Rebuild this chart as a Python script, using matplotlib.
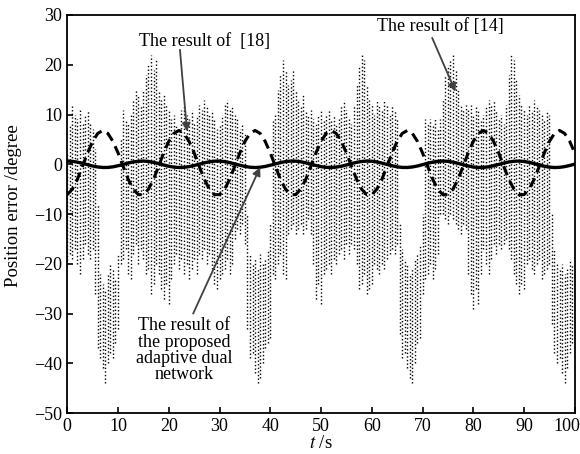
import matplotlib
matplotlib.use("Agg")
import matplotlib.pyplot as plt
import matplotlib.transforms as mtransforms

plt.rcParams['font.family'] = ['Liberation Serif', 'DejaVu Serif']
plt.rcParams['mathtext.fontset'] = 'stix'

# time axis for the two smooth curves (1 s steps)
t_smooth = list(range(0, 101))

# proposed adaptive dual network (solid)
proposed = [0.65, 0.59, 0.43, 0.19, -0.08, -0.34, -0.54, -0.64, -0.63, -0.51,
            -0.29, -0.03, 0.24, 0.47, 0.61, 0.65, 0.57, 0.39, 0.14, -0.14,
            -0.39, -0.57, -0.65, -0.61, -0.47, -0.24, 0.03, 0.29, 0.51, 0.63,
            0.64, 0.54, 0.34, 0.08, -0.19, -0.43, -0.59, -0.65, -0.59, -0.43,
            -0.19, 0.08, 0.34, 0.54, 0.64, 0.63, 0.51, 0.29, 0.03, -0.24,
            -0.47, -0.61, -0.65, -0.57, -0.39, -0.14, 0.14, 0.39, 0.57, 0.65,
            0.61, 0.47, 0.24, -0.03, -0.29, -0.51, -0.63, -0.64, -0.54, -0.34,
            -0.08, 0.19, 0.43, 0.59, 0.65, 0.59, 0.43, 0.19, -0.08, -0.34,
            -0.54, -0.64, -0.63, -0.51, -0.29, -0.03, 0.24, 0.47, 0.61, 0.65,
            0.57, 0.39, 0.14, -0.14, -0.39, -0.57, -0.65, -0.61, -0.47, -0.24,
            0.03]

# result of [18] (dashed)
ref18 = [-6.1, -5.0, -3.0, -0.4, 2.3, 4.6, 6.2, 6.8, 6.2, 4.6,
         2.3, -0.4, -3.0, -5.0, -6.1, -6.1, -5.0, -3.0, -0.4, 2.3,
         4.6, 6.2, 6.8, 6.2, 4.6, 2.3, -0.4, -3.0, -5.0, -6.1,
         -6.1, -5.0, -3.0, -0.4, 2.3, 4.6, 6.2, 6.8, 6.2, 4.6,
         2.3, -0.4, -3.0, -5.0, -6.1, -6.1, -5.0, -3.0, -0.4, 2.3,
         4.6, 6.2, 6.8, 6.2, 4.6, 2.3, -0.4, -3.0, -5.0, -6.1,
         -6.1, -5.0, -3.0, -0.4, 2.3, 4.6, 6.2, 6.8, 6.2, 4.6,
         2.3, -0.4, -3.0, -5.0, -6.1, -6.1, -5.0, -3.0, -0.4, 2.3,
         4.6, 6.2, 6.8, 6.2, 4.6, 2.3, -0.4, -3.0, -5.0, -6.1,
         -6.1, -5.0, -3.0, -0.4, 2.3, 4.6, 6.2, 6.8, 6.2, 4.6,
         2.3]

# result of [14] (dotted): one spike column every 0.5 s, top and bottom value
ref14_hi = [2, 8, 12, 10, 9, 11, 8, 10, 11, 8, 7, 3, -8, -22, -24, -25, -22, -20, -21, -23,
            -18, 5, 11, 9, 8, 10, 13, 15, 14, 12, 15, 18, 20, 22, 19, 21, 15, 13, 14, 12,
            11, 9, 10, 8, 6, 11, 12, 10, 9, 11, 8, 10, 12, 11, 13, 12, 10, 11, 9, 7,
            8, 10, 12, 13, 11, 12, 10, 9, 7, 8, 6, -10, -18, -20, -19, -21, -18, -20, -19, -17,
            -12, 9, 10, 15, 18, 21, 19, 16, 17, 19, 15, 13, 12, 14, 11, 10, 11, 9, 8, 10,
            11, 9, 10, 11, 9, 10, 8, 9, 12, 13, 11, 9, 8, 12, 16, 20, 22, 21, 16, 13,
            12, 10, 13, 12, 11, 13, 12, 10, 12, 11, 9, -12, -17, -19, -20, -22, -21, -19, -18, -16,
            -10, 9, 8, 9, 8, 9, 7, 9, 13, 18, 20, 21, 22, 19, 15, 12, 11, 12, 11, 12,
            10, 12, 11, 9, 10, 12, 13, 12, 13, 11, 9, 10, 8, 12, 18, 22, 21, 17, 14, 12,
            11, 10, 12, 11, 13, 12, 11, 10, 9, 11, 10, -10, -17, -20, -21, -20, -22, -21, -19, -20,
            -18]
ref14_lo = [-20, -18, -19, -17, -20, -22, -19, -16, -18, -19, -17, -26, -37, -39, -41, -44, -40, -38, -39, -36,
            -33, -20, -19, -17, -22, -23, -18, -16, -20, -17, -19, -22, -21, -26, -24, -20, -22, -25, -27, -24,
            -28, -23, -20, -18, -21, -19, -22, -20, -23, -21, -19, -22, -18, -19, -17, -20, -18, -21, -24, -25,
            -23, -22, -21, -19, -22, -20, -15, -13, -14, -12, -16, -33, -39, -38, -42, -44, -43, -40, -37, -36,
            -35, -22, -23, -20, -18, -22, -23, -14, -13, -12, -14, -13, -12, -14, -13, -11, -14, -20, -27, -24,
            -28, -22, -21, -20, -22, -19, -20, -18, -17, -19, -16, -18, -16, -17, -20, -25, -24, -22, -26, -25,
            -24, -20, -21, -22, -20, -21, -19, -18, -17, -18, -16, -34, -39, -38, -41, -43, -44, -40, -36, -35,
            -26, -23, -22, -20, -23, -21, -18, -10, -10, -11, -12, -10, -11, -12, -13, -14, -12, -13, -22, -26,
            -29, -25, -28, -22, -17, -20, -22, -19, -16, -18, -16, -17, -16, -15, -17, -19, -22, -24, -26, -24,
            -25, -20, -19, -21, -22, -20, -19, -23, -22, -21, -20, -32, -38, -40, -39, -42, -44, -41, -38, -36,
            -34]
t14 = [i * 0.5 for i in range(len(ref14_hi))]

fig = plt.figure(figsize=(5.8, 4.54), dpi=100)
ax = fig.add_axes([0.116, 0.09, 0.875, 0.877])

ax.vlines(t14, ref14_lo, ref14_hi, colors='black', linestyles=(0, (1.0, 1.6)),
          linewidth=1.0, zorder=1)
ax.plot(t_smooth, ref18, color='black', linestyle=(0, (3.2, 2.0)), linewidth=2.2, zorder=2)
ax.plot(t_smooth, proposed, color='black', linestyle='-', linewidth=2.4, zorder=3)

ax.set_xlim(0, 100)
ax.set_ylim(-50, 30)
ax.set_xticks(range(0, 101, 10))
ax.set_yticks(range(-50, 31, 10))
ax.tick_params(direction='in', labelsize=13, length=4, width=1.2)
for s in ax.spines.values():
    s.set_linewidth(1.3)

# keep "100" inside the figure like the original
last = ax.get_xticklabels()[-1]
last.set_transform(last.get_transform() + mtransforms.ScaledTranslation(-6 / 72, 0, fig.dpi_scale_trans))

ax.set_xlabel(r'$t$ /s', fontsize=13.5, labelpad=0)
ax.set_ylabel('Position error /degree', fontsize=13.5, labelpad=0)
ax.yaxis.set_label_coords(-0.09, 0.52)

arrow = dict(arrowstyle='-|>', color='#404040', lw=1.3, mutation_scale=12, shrinkA=0, shrinkB=0)
ax.text(27.0, 24.6, 'The result of  [18]', fontsize=13, ha='center', va='center')
ax.annotate('', xy=(23.6, 6.6), xytext=(22.2, 23.0), arrowprops=arrow)
ax.text(73.5, 27.6, 'The result of [14]', fontsize=13, ha='center', va='center')
ax.annotate('', xy=(76.5, 14.6), xytext=(71.9, 25.4), arrowprops=arrow)
ax.text(23.0, -37.4, 'The result of\nthe proposed\nadaptive dual\nnetwork', fontsize=13,
        ha='center', va='center', linespacing=0.95)
ax.annotate('', xy=(38.0, -0.6), xytext=(24.8, -30.0), arrowprops=arrow)

fig.savefig('out.png', dpi=100)
